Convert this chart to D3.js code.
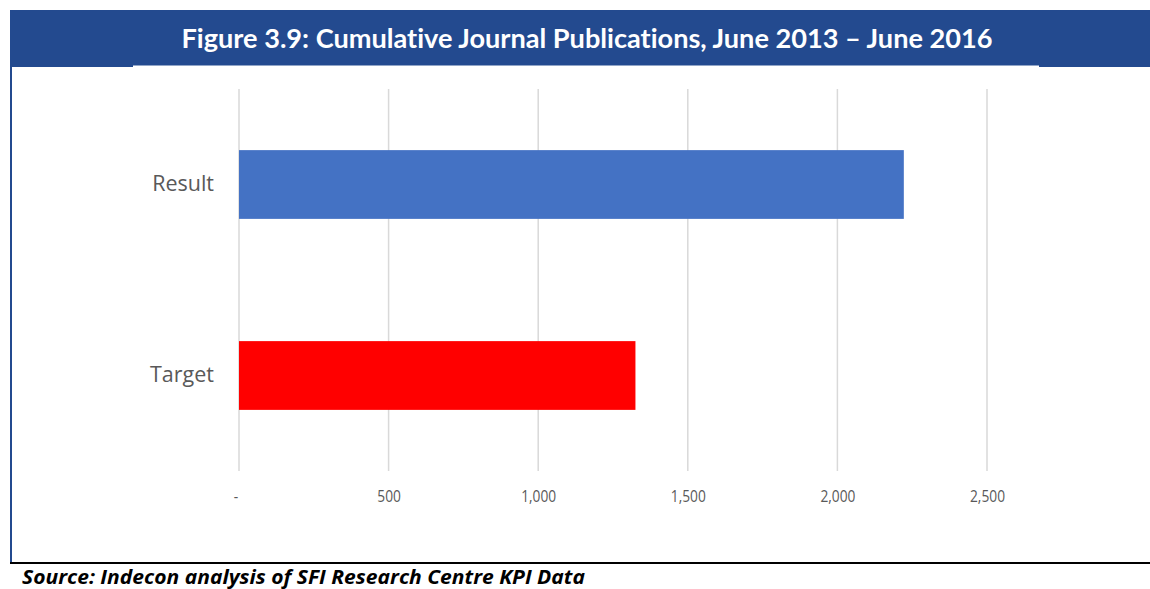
<!DOCTYPE html>
<html>
<head>
<meta charset="utf-8">
<script src="https://cdn.jsdelivr.net/npm/d3@7"></script>
<style>
  html, body { margin: 0; padding: 0; background: #fff; }
  svg { display: block; }
  text { font-variant-ligatures: none; }
</style>
</head>
<body>
<svg id="chart" width="1150" height="589"></svg>
<script>
// Cumulative journal publications, June 2013 – June 2016
const categories = ["Result", "Target"];
const values = [2222, 1325];
const barColors = ["#4472c4", "#ff0000"];
const tickValues = [0, 500, 1000, 1500, 2000, 2500];
const tickLabels = ["-", "500", "1,000", "1,500", "2,000", "2,500"];
const titleText = "Figure 3.9: Cumulative Journal Publications, June 2013 \u2013 June 2016";
const sourceText = "Source: Indecon analysis of SFI Research Centre KPI Data";

const svg = d3.select("#chart");
const W = 1150, H = 589;

// Header band
svg.append("rect").attr("x", 10).attr("y", 10).attr("width", W - 10).attr("height", 57)
  .attr("fill", "#234a8f");
svg.append("rect").attr("x", 133).attr("y", 65.5).attr("width", 906).attr("height", 2)
  .attr("fill", "#fff");
svg.append("text")
  .attr("x", 587).attr("y", 48)
  .attr("text-anchor", "middle")
  .attr("fill", "#fff")
  .style("font-family", "Lato, 'Open Sans', sans-serif")
  .style("font-weight", "700")
  .style("font-size", "26px")
  .attr("textLength", 811).attr("lengthAdjust", "spacingAndGlyphs")
  .text(titleText);

// Frame: left rule and bottom rule
svg.append("line").attr("x1", 11).attr("x2", 11).attr("y1", 66).attr("y2", 563)
  .attr("stroke", "#234a8f").attr("stroke-width", 2);
svg.append("line").attr("x1", 10).attr("x2", W).attr("y1", 563).attr("y2", 563)
  .attr("stroke", "#000").attr("stroke-width", 2);

// Scales
const x = d3.scaleLinear().domain([0, 2500]).range([239, 987]);
const y = d3.scaleBand().domain(categories).range([89, 471])
  .paddingInner(0.64).paddingOuter(0.32);

// Vertical gridlines
svg.append("g").selectAll("line").data(tickValues).join("line")
  .attr("x1", d => x(d)).attr("x2", d => x(d))
  .attr("y1", 89).attr("y2", 471)
  .attr("stroke", "#d9d9d9").attr("stroke-width", 1.5);

// Bars
svg.append("g").selectAll("rect").data(categories).join("rect")
  .attr("x", x(0))
  .attr("y", d => y(d))
  .attr("width", (d, i) => x(values[i]) - x(0))
  .attr("height", y.bandwidth())
  .attr("fill", (d, i) => barColors[i]);

// X axis tick labels (condensed horizontally)
const xAxis = d3.axisBottom(x).tickValues(tickValues)
  .tickFormat((d, i) => tickLabels[i]).tickSize(0).tickPadding(0);
const gx = svg.append("g").attr("transform", "translate(0,491)").call(xAxis);
gx.select(".domain").remove();
gx.selectAll("text")
  .attr("fill", "#595959")
  .style("font-family", "'Open Sans', sans-serif")
  .style("font-size", "16px")
  .attr("transform", "scale(0.86,1)");
gx.selectAll(".tick").filter(d => d === 0).select("text").attr("dx", "-4");

// Y axis category labels
const yAxis = d3.axisLeft(y).tickSize(0).tickPadding(0);
const gy = svg.append("g").attr("transform", "translate(214,0)").call(yAxis);
gy.select(".domain").remove();
gy.selectAll("text")
  .attr("fill", "#595959")
  .style("font-family", "'Open Sans', sans-serif")
  .style("font-size", "21.5px");

// Source note
svg.append("text")
  .attr("x", 22).attr("y", 584)
  .attr("fill", "#000")
  .style("font-family", "'Open Sans', sans-serif")
  .style("font-weight", "700")
  .style("font-style", "italic")
  .style("font-size", "19.5px")
  .attr("textLength", 563).attr("lengthAdjust", "spacingAndGlyphs")
  .text(sourceText);
</script>
</body>
</html>
